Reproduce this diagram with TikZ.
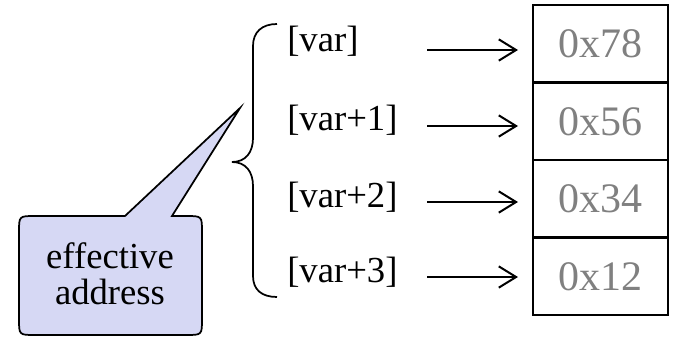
\documentclass[tikz,border=0pt]{standalone}
\usepackage{fontspec}
\newfontfamily\diagserif{Liberation Serif}
\usetikzlibrary{arrows.meta}
\definecolor{calloutfill}{RGB}{214,216,244}
\definecolor{valgray}{RGB}{128,128,128}
\tikzset{
  lbl/.style={anchor=west, inner sep=0pt, font=\diagserif\fontsize{27.5}{30}\selectfont},
  cell/.style={draw, line width=1.8pt, minimum width=101.25pt, minimum height=58.125pt,
               inner sep=0pt, text=valgray, font=\diagserif\fontsize{31.5}{34}\selectfont},
  ptr/.style={line width=1.5pt, -{Straight Barb[length=13pt, width=16pt, line width=1.5pt]}},
  brace/.style={line width=1.3pt},
  callout/.style={draw, line width=1.3pt, fill=calloutfill, line join=miter}
}
\begin{document}
\begin{tikzpicture}[x=0.75pt, y=-0.75pt]
  \useasboundingbox (0,0) rectangle (675,336);

  % memory cells
  \node[cell] (m1) at (600.5,43.75)  {0x78};
  \node[cell] (m2) at (600.5,121.25) {0x56};
  \node[cell] (m3) at (600.5,198.75) {0x34};
  \node[cell] (m4) at (600.5,276.25) {0x12};

  % address expressions
  \node[lbl] (v0) at (287,41)  {[var]};
  \node[lbl] (v1) at (287,120) {[var+1]};
  \node[lbl] (v2) at (287,197) {[var+2]};
  \node[lbl] (v3) at (287,272) {[var+3]};

  % pointer arrows
  \foreach \i/\y in {0/50,1/126,2/202,3/277}{
    \coordinate (s\i) at (427,\y);
    \coordinate (e\i) at (518,\y);
    \draw[ptr] (s\i) -- (e\i);
  }

  % curly brace grouping the addresses
  \coordinate (btop) at (277,24);
  \coordinate (btip) at (232,162);
  \coordinate (bbot) at (277,297);
  \draw[brace] (btop) .. controls (262,24) and (253,32) .. (253,46)
    -- (253,138) .. controls (253,152) and (246,162) .. (btip)
    .. controls (246,162) and (253,172) .. (253,186)
    -- (253,276) .. controls (253,290) and (262,297) .. (bbot);

  % speech bubble
  \draw[callout] (125,216) -- (240,108) -- (172,216) -- (186,216)
    .. controls (202,216) .. (202,232) -- (202,319)
    .. controls (202,335) .. (186,335) -- (35,335)
    .. controls (19,335) .. (19,319) -- (19,232)
    .. controls (19,216) .. (35,216) -- cycle;
  \node[align=center, inner sep=0pt, font=\diagserif\fontsize{27.5}{27}\selectfont]
    (ea) at (110,274) {effective\\address};
\end{tikzpicture}
\end{document}
